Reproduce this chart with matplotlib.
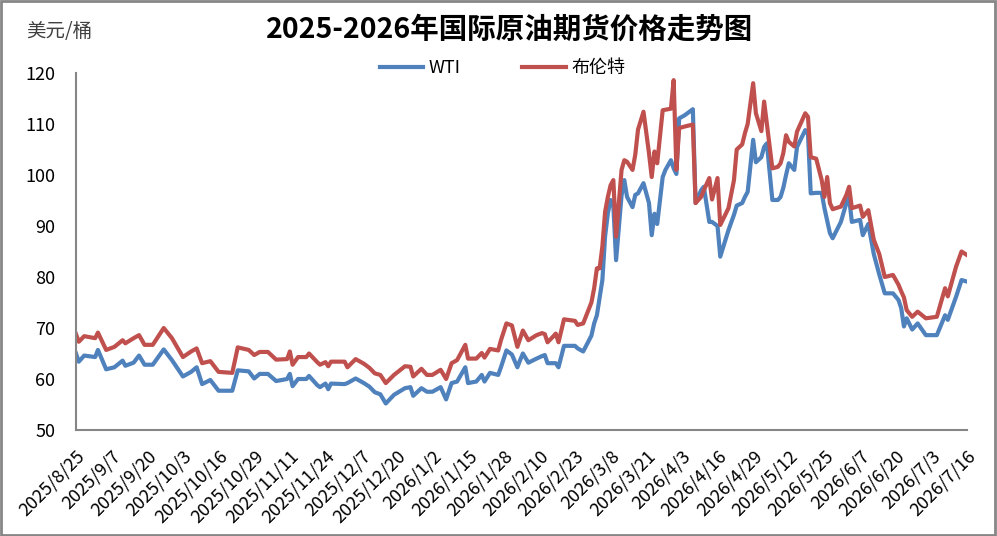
import matplotlib
matplotlib.use("Agg")
import matplotlib.pyplot as plt
from matplotlib.patches import Rectangle
import pandas as pd

plt.rcParams['font.family'] = ['Noto Sans CJK SC', 'DejaVu Sans']

# data (days counted from 2025/8/25)
start_date = '2025-08-25'
day_offset = [0, 1, 3, 7, 8, 11, 14, 17, 18, 21, 23, 25, 28, 32, 35, 39, 42, 44, 46, 49,
              52, 57, 59, 63, 65, 67, 70, 73, 77, 78, 79, 81, 84, 85, 88, 89, 91, 92, 93, 98,
              99, 102, 105, 107, 109, 111, 113, 116, 120, 122, 123, 126, 128, 130, 133, 135, 137, 139, 142, 143,
              146, 148, 149, 151, 154, 155, 157, 159, 161, 162, 163, 165, 168, 170, 171, 172, 174, 175, 176, 178,
              182, 183, 185, 188, 189, 190, 191, 192, 193, 194, 195, 196, 197, 199, 200, 201, 203, 204, 205, 207,
              209, 210, 211, 212, 214, 215, 217, 218, 219, 220, 222, 225, 226, 228, 229, 231, 232, 234, 235, 238,
              240, 241, 243, 244, 245, 247, 248, 250, 251, 252, 254, 256, 257, 258, 259, 260, 262, 263, 266, 267,
              268, 270, 272, 273, 274, 275, 276, 279, 281, 282, 283, 286, 287, 289, 291, 293, 295, 298, 300, 301,
              302, 303, 305, 307, 310, 314, 317, 318, 321, 323, 325]
wti = [65.0, 63.4, 64.6, 64.3, 65.7, 61.9, 62.3, 63.6, 62.6, 63.2, 64.6, 62.8, 62.8, 65.8, 63.7, 60.5, 61.4, 62.3, 59.0, 59.8,
       57.7, 57.7, 61.7, 61.5, 60.1, 61.0, 61.0, 59.6, 60.0, 61.0, 58.6, 60.0, 60.0, 60.6, 58.8, 58.4, 59.1, 58.0, 59.1, 59.0,
       59.2, 60.1, 59.2, 58.5, 57.4, 57.0, 55.2, 56.9, 58.2, 58.4, 56.7, 58.2, 57.5, 57.5, 58.4, 56.0, 59.2, 59.5, 62.3, 59.2,
       59.5, 60.8, 59.5, 61.2, 60.8, 62.3, 65.6, 64.8, 62.3, 63.7, 65.0, 63.2, 64.0, 64.5, 64.7, 63.1, 63.1, 63.1, 62.3, 66.5,
       66.5, 66.0, 65.4, 68.5, 70.9, 72.5, 76.0, 79.4, 88.0, 92.5, 95.1, 94.0, 83.3, 96.0, 99.0, 95.7, 93.7, 96.1, 96.4, 98.4,
       94.5, 88.2, 92.4, 90.4, 99.6, 101.0, 102.9, 101.3, 100.2, 111.1, 111.7, 112.9, 94.5, 97.0, 97.7, 90.8, 90.8, 90.0, 84.0, 89.2,
       92.2, 94.0, 94.5, 95.7, 96.7, 106.9, 102.5, 103.5, 105.5, 106.2, 95.1, 95.1, 95.7, 97.5, 100.0, 102.3, 101.0, 105.5, 108.8, 108.0,
       96.4, 96.5, 96.5, 93.5, 91.0, 88.6, 87.6, 90.8, 94.5, 95.5, 90.8, 91.2, 88.2, 90.4, 84.5, 80.5, 76.8, 76.8, 75.5, 73.9,
       70.3, 71.9, 69.7, 70.9, 68.6, 68.6, 72.5, 71.6, 76.1, 79.4, 79.1]
brent = [68.8, 67.3, 68.4, 68.0, 69.1, 65.7, 66.3, 67.6, 67.0, 68.0, 68.6, 66.7, 66.7, 70.0, 68.0, 64.3, 65.4, 66.0, 63.1, 63.5,
         61.4, 61.2, 66.2, 65.7, 64.7, 65.3, 65.3, 63.8, 63.9, 65.4, 62.8, 64.3, 64.3, 65.0, 63.3, 62.8, 63.3, 62.5, 63.4, 63.4,
         62.3, 63.9, 63.0, 62.2, 61.1, 60.8, 59.2, 60.8, 62.5, 62.4, 60.5, 62.0, 60.8, 60.8, 61.8, 60.0, 63.1, 63.7, 66.7, 64.0,
         64.0, 65.1, 64.2, 65.9, 65.6, 67.6, 70.9, 70.5, 66.3, 67.9, 69.5, 67.6, 68.6, 69.0, 68.8, 67.2, 68.3, 68.9, 67.2, 71.7,
         71.4, 70.6, 70.9, 75.0, 77.8, 81.7, 81.7, 86.0, 92.8, 95.7, 98.0, 99.0, 87.9, 101.0, 102.9, 102.6, 101.0, 104.0, 108.9, 112.4,
         104.3, 99.6, 104.6, 102.3, 112.7, 112.8, 113.0, 118.6, 101.0, 109.2, 109.5, 109.9, 94.5, 95.7, 97.0, 99.4, 95.2, 99.4, 90.2, 93.5,
         99.0, 105.0, 106.0, 108.2, 110.0, 118.0, 112.1, 108.6, 114.4, 110.0, 101.3, 101.6, 102.3, 104.3, 107.8, 106.5, 105.6, 108.5, 112.1, 111.4,
         103.5, 103.2, 99.0, 95.7, 99.6, 94.5, 93.3, 93.8, 96.1, 97.7, 93.5, 94.0, 91.8, 93.1, 87.3, 84.5, 80.0, 80.4, 78.5, 77.2,
         76.0, 73.5, 72.2, 73.2, 71.9, 72.2, 77.8, 76.2, 82.0, 85.0, 84.3]
tick_labels = ['2025/8/25', '2025/9/7', '2025/9/20', '2025/10/3', '2025/10/16', '2025/10/29',
               '2025/11/11', '2025/11/24', '2025/12/7', '2025/12/20', '2026/1/2', '2026/1/15',
               '2026/1/28', '2026/2/10', '2026/2/23', '2026/3/8', '2026/3/21', '2026/4/3',
               '2026/4/16', '2026/4/29', '2026/5/12', '2026/5/25', '2026/6/7', '2026/6/20',
               '2026/7/3', '2026/7/16']

dates = pd.Timestamp(start_date) + pd.to_timedelta(day_offset, unit='D')
tick_dates = pd.to_datetime(tick_labels, format='%Y/%m/%d')

fig = plt.figure(figsize=(9.97, 5.36), dpi=100)
ax = fig.add_axes([76 / 997, 1 - 430 / 536, (967 - 76) / 997, (430 - 73) / 536])

ax.plot(dates, wti, color='#4F81BD', lw=3, label='WTI', solid_joinstyle='round')
ax.plot(dates, brent, color='#C0504D', lw=3, label='布伦特', solid_joinstyle='round')

ax.set_xlim(tick_dates[0], tick_dates[-1])
ax.set_ylim(50, 120)
ax.set_yticks(range(50, 121, 10))
ax.set_xticks(tick_dates)
ax.set_xticklabels(tick_labels, rotation=45, ha='right', va='top', rotation_mode='anchor')
ax.tick_params(axis='both', length=0, colors='black')
ax.tick_params(axis='y', pad=15, labelsize=13)
ax.tick_params(axis='x', pad=12, labelsize=13)

for side in ['top', 'right']:
    ax.spines[side].set_visible(False)
for side in ['left', 'bottom']:
    ax.spines[side].set_color('#868686')
    ax.spines[side].set_linewidth(1.5)

fig.text(0.511, 1 - 30 / 536, '2025-2026年国际原油期货价格走势图', ha='center', va='center',
         fontsize=20.5, fontweight='bold')
fig.text(26 / 997, 1 - 32 / 536, '美元/桶', ha='left', va='center', fontsize=14, color='#404040')

fig.legend(loc='center', bbox_to_anchor=(0.504, 1 - 68 / 536), ncol=2, frameon=False,
           fontsize=13, handlelength=2.4, columnspacing=3.4, handletextpad=0.3)

fig.add_artist(Rectangle((0.001, 0.002), 0.997, 0.996, transform=fig.transFigure,
                         fill=False, ec='#868686', lw=2))

fig.savefig('out.png', dpi=100)
